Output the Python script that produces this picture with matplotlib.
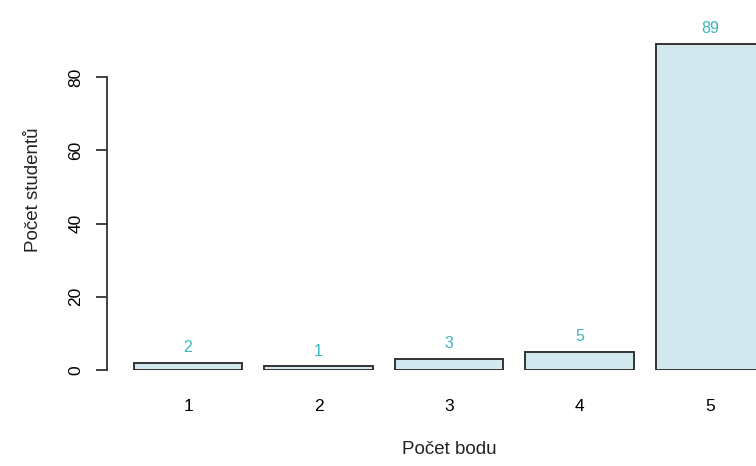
import matplotlib
matplotlib.use("Agg")
import matplotlib.pyplot as plt

categories = ["1", "2", "3", "4", "5"]
counts = [2, 1, 3, 5, 89]
yticks = [0, 20, 40, 60, 80]

plt.rcParams['font.family'] = ['Liberation Sans', 'DejaVu Sans']

W, H = 756, 466
fig = plt.figure(figsize=(W / 100, H / 100), dpi=100)

# pixel geometry
px_per_x = 108.75
x0_px = 111.9          # data x=0
y0_px = 370            # data y=0 (from top)
px_per_y = 3.6625
left_px = 107
ax = fig.add_axes([left_px / W, (H - y0_px) / H, 1 - left_px / W, y0_px / H])
ax.set_xlim((left_px - x0_px) / px_per_x, (W - x0_px) / px_per_x)
ax.set_ylim(0, y0_px / px_per_y)

centers = [0.7 + 1.2 * i for i in range(len(categories))]
bars = ax.bar(centers, counts, width=1.0, color="#d1e9ee", edgecolor="#333333",
              linewidth=1.4, zorder=2, clip_on=True)

for c, v in zip(centers, counts):
    ax.annotate(str(v), (c, v), xytext=(0, 5.5), textcoords="offset points",
                ha="center", va="bottom", color="#3db6bf", fontsize=11.5)

for s in ["top", "right", "bottom"]:
    ax.spines[s].set_visible(False)
ax.spines["left"].set_bounds(0, 80)
ax.spines["left"].set_linewidth(1.3)
ax.spines["left"].set_color("#333333")

ax.set_yticks(yticks)
ax.set_yticklabels([str(t) for t in yticks], rotation=90, va="center", fontsize=12.5)
ax.tick_params(axis="y", length=8, width=1.3, color="#333333", pad=9)
ax.set_xticks(centers)
ax.set_xticklabels(categories, fontsize=12.5)
ax.tick_params(axis="x", length=0, pad=21)

fig.text(449 / W, 1 - 449 / H, "Počet bodu", ha="center", va="center", fontsize=13.5, color="#222222")
fig.text(33 / W, 1 - 190 / H, "Počet studentů", ha="center", va="center", rotation=90,
         fontsize=13.5, color="#222222")

fig.savefig("out.png", dpi=100)
